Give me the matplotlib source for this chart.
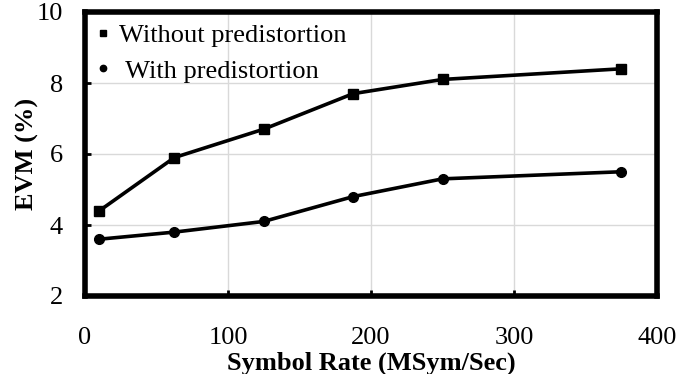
import matplotlib
matplotlib.use("Agg")
import matplotlib.pyplot as plt

# Symbol rate sweep and measured EVM
symbol_rate = [10, 62.5, 125, 187.5, 250, 375]
evm_without_pd = [4.4, 5.9, 6.7, 7.7, 8.1, 8.4]
evm_with_pd = [3.6, 3.8, 4.1, 4.8, 5.3, 5.5]

x_ticks = [0, 100, 200, 300, 400]
y_ticks = [2, 4, 6, 8, 10]

plt.rcParams["font.family"] = ["Liberation Serif", "DejaVu Serif"]

fig = plt.figure(figsize=(6.92, 3.74), dpi=100)
ax = fig.add_axes([85 / 692, 1 - 296 / 374, (657 - 85) / 692, (296 - 12) / 374])

ax.plot(symbol_rate, evm_without_pd, color="black", lw=2.6, marker="s",
        ms=7.5, label="Without predistortion", zorder=3)
ax.plot(symbol_rate, evm_with_pd, color="black", lw=2.6, marker="o",
        ms=7, label=" With predistortion", zorder=3)

ax.set_xlim(0, 400)
ax.set_ylim(2, 10)
ax.set_xticks(x_ticks)
ax.set_yticks(y_ticks)
ax.grid(True, color="#d9d9d9", lw=1.0, zorder=0)
ax.set_axisbelow(True)

for s in ax.spines.values():
    s.set_linewidth(4)
    s.set_color("black")

ax.tick_params(axis="x", direction="in", length=4, width=2, pad=22, labelsize=19)
ax.tick_params(axis="y", direction="in", length=4, width=2, pad=16, labelsize=19)

ax.set_xlabel("Symbol Rate (MSym/Sec)", fontsize=19, fontweight="bold", labelpad=2)
ax.set_ylabel("EVM (%)", fontsize=19, fontweight="bold", labelpad=-2)

leg = ax.legend(loc="upper left", frameon=False, fontsize=19, handlelength=0.5,
                handletextpad=0.35, borderaxespad=0.05, labelspacing=0.45,
                markerscale=0.65)
for h in leg.legend_handles:
    h.set_linestyle("none")

fig.savefig("out.png", dpi=100)
